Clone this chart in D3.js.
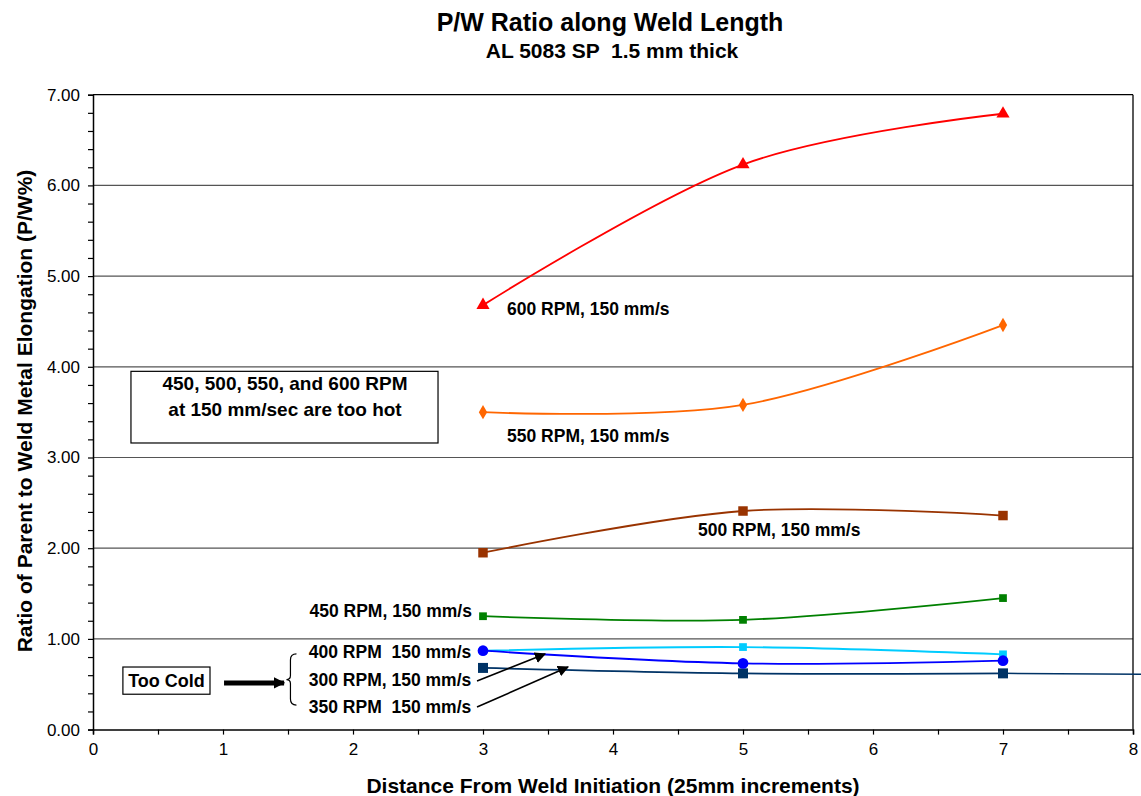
<!DOCTYPE html>
<html><head><meta charset="utf-8">
<script src="https://cdn.jsdelivr.net/npm/d3@7"></script>
<style>
body{margin:0;background:#fff;}
svg{font-family:"Liberation Sans",Arial,sans-serif;}
text{white-space:pre;}
</style></head>
<body><svg id="chart" width="1141" height="796"></svg>
<script>
// ---- data ----
const xValues = [3, 5, 7];
const rpm600 = [4.68, 6.23, 6.79];
const rpm550 = [3.50, 3.58, 4.46];
const rpm500 = [1.95, 2.41, 2.36];
const rpm450 = [1.25, 1.21, 1.45];
const rpm400 = [0.87, 0.91, 0.83];
const rpm300 = [0.87, 0.73, 0.76];
const rpm350 = [0.68, 0.62, 0.62];
const trail350 = [[7, 0.62], [8.07, 0.61]];
const yTicks = [0, 1, 2, 3, 4, 5, 6, 7];
const xTicks = [0, 1, 2, 3, 4, 5, 6, 7, 8];
const title = "P/W Ratio along Weld Length";
const subtitle = "AL 5083 SP  1.5 mm thick";
const xLabel = "Distance From Weld Initiation (25mm increments)";
const yLabel = "Ratio of Parent to Weld Metal Elongation (P/W%)";

const series = [
  {name: "600", values: rpm600, color: "#FF0000", marker: "triangle", size: 75},
  {name: "550", values: rpm550, color: "#FF6600", marker: "diamond", size: 60},
  {name: "500", values: rpm500, color: "#993300", marker: "square", size: 90},
  {name: "450", values: rpm450, color: "#008000", marker: "square", size: 60},
  {name: "400", values: rpm400, color: "#00CCFF", marker: "square", size: 60},
  {name: "350", values: rpm350, color: "#003366", marker: "square", size: 100},
  {name: "300", values: rpm300, color: "#0000FF", marker: "circle", size: 90}
];

const svg = d3.select("#chart");
const x = d3.scaleLinear().domain([0, 8]).range([93, 1133]);
const y = d3.scaleLinear().domain([0, 7]).range([729.6, 94.7]);

// gridlines
svg.append("g").selectAll("line").data(yTicks.filter(d => d > 0 && d < 7)).join("line")
  .attr("x1", x(0)).attr("x2", x(8)).attr("y1", d => y(d)).attr("y2", d => y(d))
  .attr("stroke", "#555").attr("stroke-width", 1.2);
// frame top & right
svg.append("line").attr("x1", x(0)).attr("x2", x(8)).attr("y1", y(7)).attr("y2", y(7)).attr("stroke", "#000").attr("stroke-width", 1.3);
svg.append("line").attr("x1", x(8)).attr("x2", x(8)).attr("y1", y(7)).attr("y2", y(0)).attr("stroke", "#000").attr("stroke-width", 1.3);

// axes
const yAxis = d3.axisLeft(y).tickValues(d3.range(0, 7.001, 0.2)).tickSize(5)
  .tickFormat(d => Math.abs(d - Math.round(d)) < 1e-6 ? d3.format(".2f")(d) : "");
const gy = svg.append("g").attr("transform", `translate(${x(0)},0)`).call(yAxis);
gy.select(".domain").attr("stroke-width", 1.5);
gy.selectAll(".tick line").attr("stroke-width", 1.2);
gy.selectAll("text").attr("font-size", 17).attr("fill", "#000").attr("x", -13).attr("font-family", "Liberation Sans, Arial");

const xAxis = d3.axisBottom(x).tickValues(d3.range(0, 8.001, 0.5)).tickSize(5)
  .tickFormat(d => Number.isInteger(d) ? xTicks[d] : "");
const gx = svg.append("g").attr("transform", `translate(0,${y(0)})`).call(xAxis);
gx.select(".domain").attr("stroke-width", 1.5);
gx.selectAll(".tick line").attr("stroke-width", 1.2);
gx.selectAll("text").attr("font-size", 17).attr("fill", "#000").attr("y", 13).attr("font-family", "Liberation Sans, Arial");

// lines
const line = d3.line().x(d => x(d[0])).y(d => y(d[1])).curve(d3.curveCardinal.tension(0));
svg.append("path").datum(trail350).attr("d", d3.line().x(d => x(d[0])).y(d => y(d[1])))
  .attr("fill", "none").attr("stroke", "#003366").attr("stroke-width", 1.5);
series.forEach(s => {
  const pts = xValues.map((xv, i) => [xv, s.values[i]]);
  svg.append("path").datum(pts).attr("d", line)
    .attr("fill", "none").attr("stroke", s.color).attr("stroke-width", 1.8);
  const sym = {triangle: d3.symbolTriangle, diamond: d3.symbolDiamond, square: d3.symbolSquare, circle: d3.symbolCircle}[s.marker];
  svg.append("g").selectAll("path").data(pts).join("path")
    .attr("transform", d => `translate(${x(d[0])},${y(d[1])})`)
    .attr("d", d3.symbol().type(sym).size(s.size)).attr("fill", s.color);
});

// annotations
function txt(t, xv, yv, anchor, size) {
  return svg.append("text").attr("x", x(xv)).attr("y", y(yv)).attr("text-anchor", anchor || "start")
    .attr("font-weight", "bold").attr("font-size", size || 17.5).attr("fill", "#000").text(t);
}
txt("600 RPM, 150 mm/s", 3.185, 4.57);
txt("550 RPM, 150 mm/s", 3.185, 3.17);
txt("500 RPM, 150 mm/s", 4.654, 2.13);
txt("450 RPM, 150 mm/s", 2.915, 1.24, "end");
txt("400 RPM  150 mm/s", 1.66, 0.79);
txt("300 RPM, 150 mm/s", 1.66, 0.48);
txt("350 RPM  150 mm/s", 1.66, 0.18);

// hot box
svg.append("rect").attr("x", x(0.292)).attr("y", y(3.95)).attr("width", x(2.654) - x(0.292)).attr("height", y(3.16) - y(3.95))
  .attr("fill", "#fff").attr("stroke", "#000").attr("stroke-width", 1.2);
txt("450, 500, 550, and 600 RPM", 1.477, 3.74, "middle", 19);
txt("at 150 mm/sec are too hot", 1.477, 3.46, "middle", 19);

// too cold box
svg.append("rect").attr("x", x(0.23)).attr("y", y(0.69)).attr("width", x(0.9) - x(0.23)).attr("height", y(0.39) - y(0.69))
  .attr("fill", "#fff").attr("stroke", "#000").attr("stroke-width", 1.2);
txt("Too Cold", 0.565, 0.475, "middle", 18);

// arrowheads
const defs = svg.append("defs");
defs.append("marker").attr("id", "ah").attr("viewBox", "0 0 10 10").attr("refX", 9).attr("refY", 5)
  .attr("markerWidth", 7).attr("markerHeight", 7).attr("orient", "auto")
  .append("path").attr("d", "M0,0L10,5L0,10z").attr("fill", "#000");
defs.append("marker").attr("id", "ahBig").attr("viewBox", "0 0 10 10").attr("refX", 9).attr("refY", 5)
  .attr("markerWidth", 2.3).attr("markerHeight", 2.6).attr("markerUnits", "strokeWidth").attr("orient", "auto")
  .append("path").attr("d", "M0,0L10,5L0,10z").attr("fill", "#000");

svg.append("line").attr("x1", x(1.008)).attr("y1", y(0.514)).attr("x2", x(1.47)).attr("y2", y(0.514))
  .attr("stroke", "#000").attr("stroke-width", 5).attr("marker-end", "url(#ahBig)");
svg.append("line").attr("x1", x(2.954)).attr("y1", y(0.536)).attr("x2", x(3.477)).attr("y2", y(0.834))
  .attr("stroke", "#000").attr("stroke-width", 1.6).attr("marker-end", "url(#ah)");
svg.append("line").attr("x1", x(2.954)).attr("y1", y(0.249)).attr("x2", x(3.654)).attr("y2", y(0.69))
  .attr("stroke", "#000").attr("stroke-width", 1.6).attr("marker-end", "url(#ah)");

// brace
const bx = x(1.565), bt = y(0.834), bb = y(0.27), bm = (bt + bb) / 2;
svg.append("path").attr("d",
  `M${bx},${bt} Q${bx-6},${bt} ${bx-6},${bt+6} L${bx-6},${bm-4} Q${bx-6},${bm} ${bx-10},${bm} Q${bx-6},${bm} ${bx-6},${bm+4} L${bx-6},${bb-6} Q${bx-6},${bb} ${bx},${bb}`)
  .attr("fill", "none").attr("stroke", "#000").attr("stroke-width", 1.2);

// titles
svg.append("text").attr("x", 610).attr("y", 31).attr("text-anchor", "middle").attr("font-weight", "bold").attr("font-size", 25).text(title);
svg.append("text").attr("x", 612).attr("y", 58).attr("text-anchor", "middle").attr("font-weight", "bold").attr("font-size", 21).text(subtitle);
svg.append("text").attr("x", 613).attr("y", 793).attr("text-anchor", "middle").attr("font-weight", "bold").attr("font-size", 21).text(xLabel);
svg.append("text").attr("transform", "translate(32,411) rotate(-90)").attr("text-anchor", "middle").attr("font-weight", "bold").attr("font-size", 21).text(yLabel);
</script></body></html>
